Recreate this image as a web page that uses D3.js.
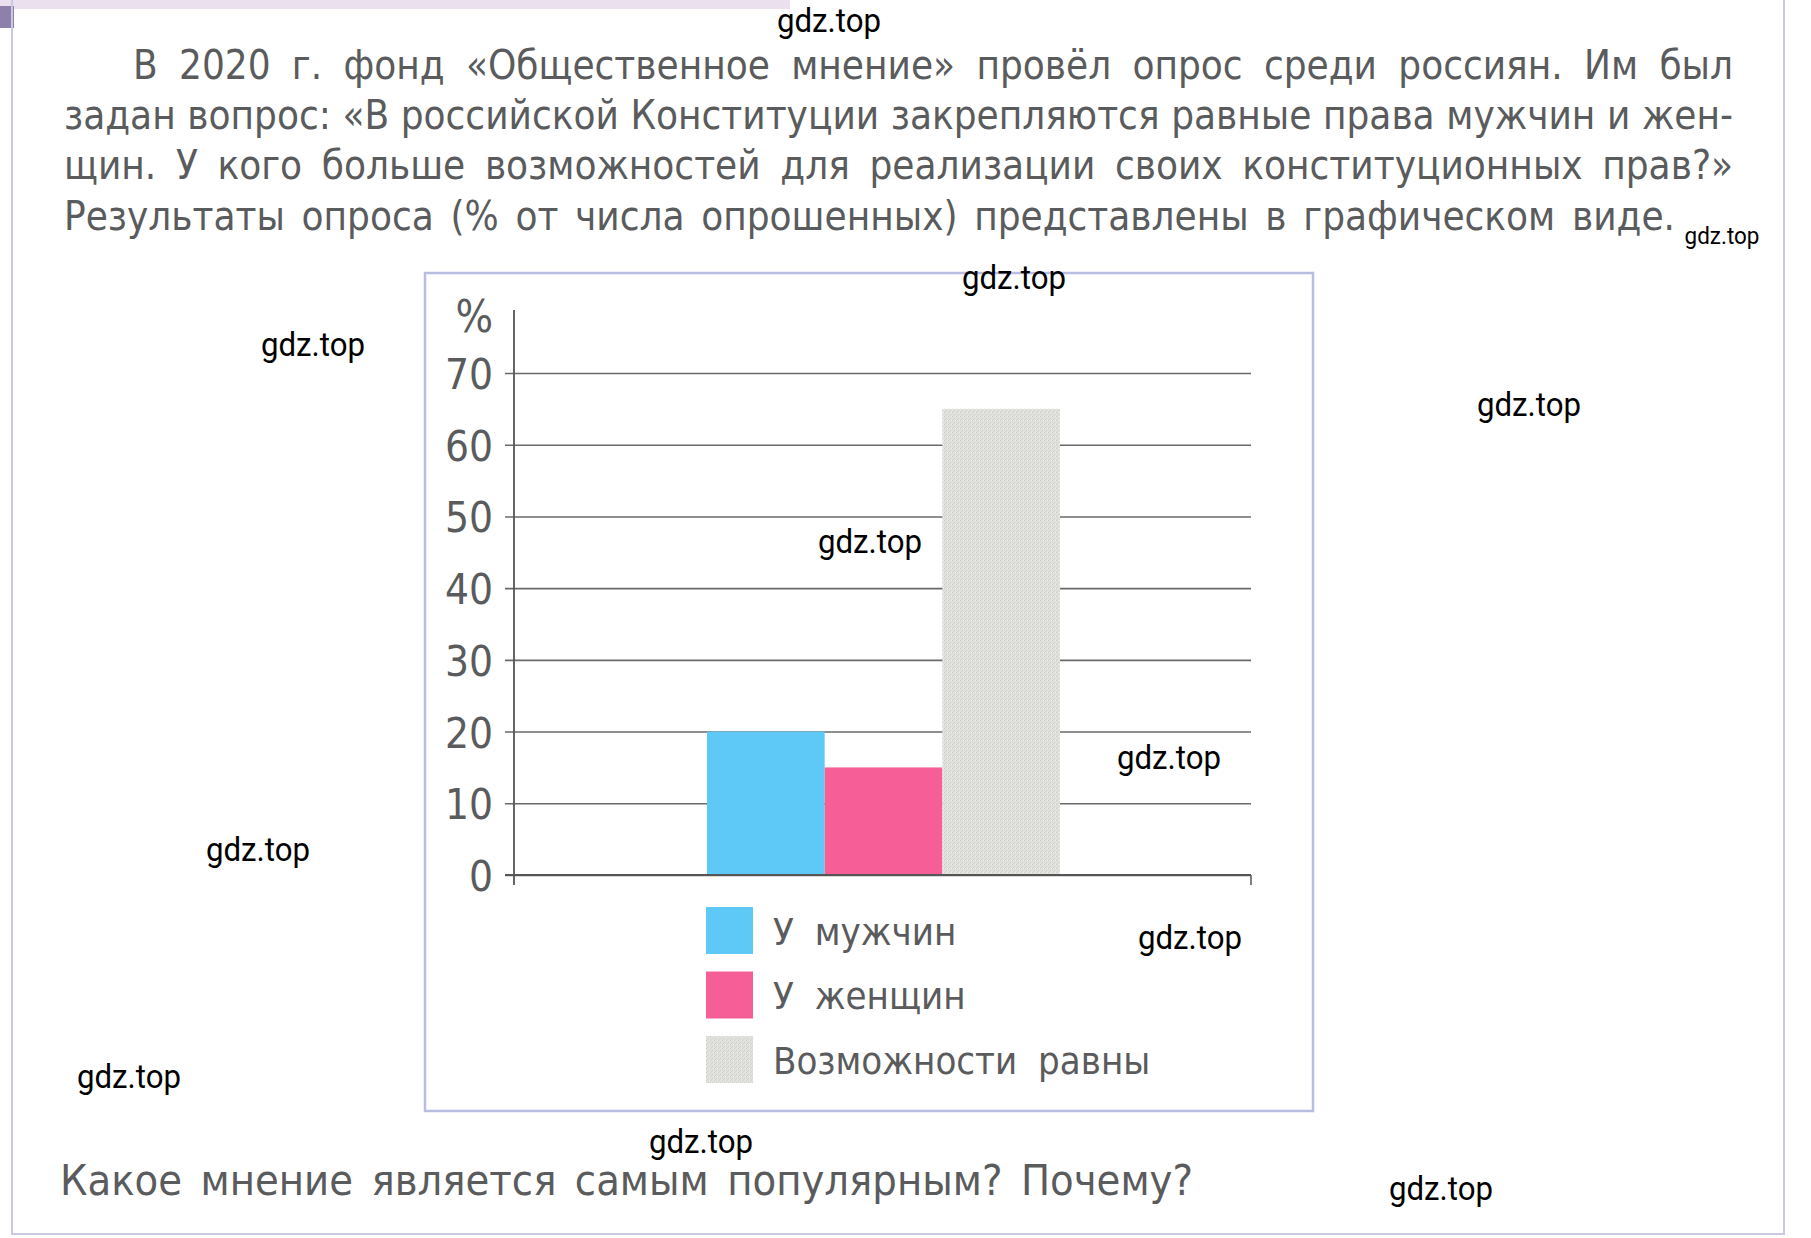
<!DOCTYPE html>
<html><head><meta charset="utf-8">
<script src="https://cdn.jsdelivr.net/npm/d3@7"></script>
<style>
html,body{margin:0;padding:0;background:#fff;}
svg{display:block;}
</style></head>
<body>
<svg id="c" width="1811" height="1238"></svg>
<script>
// ---- data ----
const categories = ["У мужчин", "У женщин", "Возможности равны"];
const values = [20, 15, 65];
const colors = ["#5ec9f6", "#f65e98", "#dcdcd9"];
const yTicks = [0, 10, 20, 30, 40, 50, 60, 70];
const yUnit = "%";
const paragraph = [
  "В 2020 г. фонд «Общественное мнение» провёл опрос среди россиян. Им был",
  "задан вопрос: «В российской Конституции закрепляются равные права мужчин и жен-",
  "щин. У кого больше возможностей для реализации своих конституционных прав?»",
  "Результаты опроса (% от числа опрошенных) представлены в графическом виде."
];
const question = "Какое мнение является самым популярным? Почему?";
const watermark = "gdz.top";
const watermarkSpots = [[829,20,1],[1722,236,0.72],[1014,277,1],[313,344,1],[1529,404,1],[870,541,1],[1169,757,1],[258,849,1],[1190,937,1],[129,1076,1],[701,1141,1],[1441,1188,1]];

const FONT = "'Liberation Sans Narrow','DejaVu Sans Condensed','Noto Sans',sans-serif";
const TXT = "#5a5b5d";
const svg = d3.select("#c");

// pattern for grey bar
const defs = svg.append("defs");
const pat = defs.append("pattern").attr("id","grain").attr("width",4).attr("height",4).attr("patternUnits","userSpaceOnUse");
pat.append("rect").attr("width",4).attr("height",4).attr("fill","#e0e0dd");
pat.append("rect").attr("x",0).attr("y",0).attr("width",1).attr("height",1).attr("fill","#cbcbc8");
pat.append("rect").attr("x",2).attr("y",2).attr("width",1).attr("height",1).attr("fill","#d1d1ce");
pat.append("rect").attr("x",3).attr("y",0).attr("width",1).attr("height",1).attr("fill","#ededea");
pat.append("rect").attr("x",1).attr("y",3).attr("width",1).attr("height",1).attr("fill","#d5d5d2");

// page decoration
svg.append("rect").attr("x",0).attr("y",0).attr("width",790).attr("height",9).attr("fill","#ebe1ee");
svg.append("rect").attr("x",0).attr("y",6).attr("width",14).attr("height",22).attr("fill","#8e80aa");
svg.append("path").attr("d","M12,0 V1234 H1784 V0").attr("fill","none").attr("stroke","#c9c9e6").attr("stroke-width",2);

// justified text helper
function justify(str, x0, x1, y, size) {
  const words = str.split(" ");
  const g = svg.append("g").attr("font-family",FONT).attr("font-size",size).attr("fill",TXT);
  const nodes = words.map(w => g.append("text").attr("y",y).text(w));
  const widths = nodes.map(n => n.node().getComputedTextLength());
  const total = d3.sum(widths);
  const gap = words.length > 1 ? (x1 - x0 - total) / (words.length - 1) : 0;
  let x = x0;
  nodes.forEach((n,i) => { n.attr("x", x); x += widths[i] + gap; });
}
const lineX0 = [133, 64, 64, 64];
const lineX1 = [1733, 1733, 1733, 1675];
const lineY = [79, 129, 179, 230];
paragraph.forEach((l,i) => justify(l, lineX0[i], lineX1[i], lineY[i], 40));
justify(question, 60, 1193, 1195, 43);

// chart frame
svg.append("rect").attr("x",425).attr("y",273).attr("width",888).attr("height",838)
  .attr("fill","none").attr("stroke","#b9bde2").attr("stroke-width",2.5);

// scales
const y = d3.scaleLinear().domain([0,70]).range([875,373]);
const x = d3.scaleBand().domain(categories).range([707,1060]).padding(0);
const axisX = 514, gridEnd = 1251;

// gridlines via axis
const gAxis = svg.append("g").attr("transform",`translate(${gridEnd},0)`)
  .call(d3.axisLeft(y).tickValues(yTicks).tickSize(gridEnd-505).tickFormat(""));
gAxis.select(".domain").remove();
gAxis.selectAll("line").attr("stroke","#6a6a6a").attr("stroke-width",1.6);

// labels
svg.append("g").selectAll("text").data(yTicks).join("text")
  .attr("x",493).attr("y",d=>y(d)).attr("dy","0.38em").attr("text-anchor","end")
  .attr("font-family",FONT).attr("font-size",42).attr("fill",TXT).text(d=>d);
svg.append("text").attr("x",493).attr("y",332).attr("text-anchor","end")
  .attr("font-family",FONT).attr("font-size",44).attr("fill",TXT).text(yUnit);

// axis line
svg.append("line").attr("x1",axisX).attr("x2",axisX).attr("y1",310).attr("y2",885)
  .attr("stroke","#555").attr("stroke-width",1.8);
svg.append("line").attr("x1",gridEnd).attr("x2",gridEnd).attr("y1",y(0)).attr("y2",y(0)+10)
  .attr("stroke","#555").attr("stroke-width",1.5);

// bars
svg.append("g").selectAll("rect").data(categories).join("rect")
  .attr("x",d=>x(d)).attr("width",x.bandwidth())
  .attr("y",(d,i)=>y(values[i])).attr("height",(d,i)=>y(0)-y(values[i]))
  .attr("fill",(d,i)=> i===2 ? "url(#grain)" : colors[i]);
svg.append("line").attr("x1",505).attr("x2",gridEnd).attr("y1",y(0)).attr("y2",y(0))
  .attr("stroke","#555").attr("stroke-width",2);

// legend
const lg = svg.append("g").selectAll("g").data(categories).join("g")
  .attr("transform",(d,i)=>`translate(706,${907 + i*64.5})`);
lg.append("rect").attr("width",47).attr("height",47).attr("fill",(d,i)=> i===2 ? "url(#grain)" : colors[i]);
lg.append("text").attr("x",67).attr("y",24).attr("dy","0.36em")
  .attr("font-family",FONT).attr("font-size",38).attr("fill",TXT)
  .attr("word-spacing",10).text(d=>d);

// watermarks
svg.append("g").selectAll("text").data(watermarkSpots).join("text")
  .attr("x",d=>d[0]).attr("y",d=>d[1]).attr("dy","0.35em").attr("text-anchor","middle")
  .attr("font-family","'Roboto',sans-serif")
  .attr("font-size",d=>33*d[2])
  .attr("textLength",d=>104*d[2]).attr("lengthAdjust","spacingAndGlyphs")
  .attr("fill","#000").text(watermark);
</script>
</body></html>
